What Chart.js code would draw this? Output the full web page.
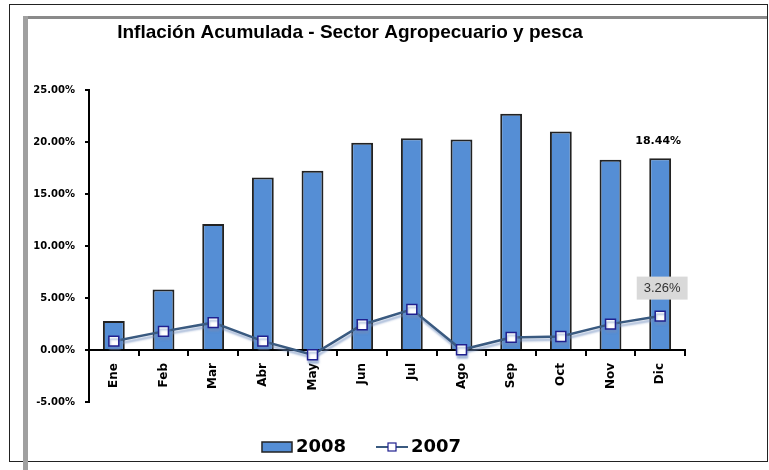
<!DOCTYPE html>
<html>
<head>
<meta charset="utf-8">
<script src="https://cdn.jsdelivr.net/npm/chart.js@4/dist/chart.umd.min.js"></script>
<style>
html, body { margin: 0; padding: 0; background: #fff; }
#wrap { position: relative; width: 769px; height: 470px; overflow: hidden; }
#chart { position: absolute; left: 0; top: 0; }
.outer { position: absolute; left: 9px; top: 4px; width: 757px; height: 456px; border: 1px solid #222; pointer-events: none; }
.innerTop { position: absolute; left: 23px; top: 16px; width: 744px; height: 3px; background: #8a8a8a; pointer-events: none; }
.innerLeft { position: absolute; left: 23px; top: 16px; width: 5px; height: 454px; background: #a0a0a0; pointer-events: none; }
</style>
</head>
<body>
<div id="wrap">
  <canvas id="chart" width="769" height="470"></canvas>
  <div class="outer"></div>
  <div class="innerTop"></div>
  <div class="innerLeft"></div>
</div>
<script>
const chartTitle = 'Inflación Acumulada - Sector Agropecuario y pesca';
const months = ['Ene', 'Feb', 'Mar', 'Abr', 'May', 'Jun', 'Jul', 'Ago', 'Sep', 'Oct', 'Nov', 'Dic'];
const seriesNames = ['2008', '2007'];
const values2008 = [2.78, 5.81, 12.11, 16.58, 17.23, 19.93, 20.35, 20.25, 22.72, 21.00, 18.29, 18.44];
const values2007 = [0.85, 1.79, 2.63, 0.85, -0.46, 2.43, 3.91, 0.02, 1.21, 1.30, 2.49, 3.26];
const yTicks = [-5, 0, 5, 10, 15, 20, 25];

const barColor = '#558ed5';
const lineColor = '#3a5a80';
const markerBorder = '#20208f';

document.addEventListener('DOMContentLoaded', () => {
    Chart.defaults.font.family = '"DejaVu Sans", sans-serif';
    Chart.defaults.color = '#000';

    // legend icons: plain bar swatch and line with square marker
    function legendIcon(draw) {
        const c = document.createElement('canvas');
        c.width = 32;
        c.height = 12;
        draw(c.getContext('2d'));
        return c;
    }
    const barIcon = legendIcon(g => {
        g.fillStyle = barColor;
        g.fillRect(1, 1, 30, 10);
        g.strokeStyle = '#222';
        g.lineWidth = 1.5;
        g.strokeRect(1, 1, 30, 10);
    });
    const lineIcon = legendIcon(g => {
        g.strokeStyle = lineColor;
        g.lineWidth = 2;
        g.beginPath();
        g.moveTo(0, 6);
        g.lineTo(32, 6);
        g.stroke();
        g.fillStyle = '#fff';
        g.fillRect(12, 2, 8, 8);
        g.strokeStyle = markerBorder;
        g.lineWidth = 1.2;
        g.strokeRect(12, 2, 8, 8);
    });

    const titlePlugin = {
        id: 'plainTitle',
        afterDraw(chart) {
            const c = chart.ctx;
            c.save();
            c.font = 'bold 19px "Liberation Sans"';
            c.fillStyle = '#000';
            c.textAlign = 'center';
            c.textBaseline = 'middle';
            c.fillText(chartTitle, 350, 33);
            c.restore();
        }
    };

    // the legend sits a bit right of the plot centre in the original
    const legendShift = {
        id: 'legendShift',
        afterUpdate(chart) {
            chart.legend.left += 14;
            chart.legend.right += 14;
        }
    };

    const lineShadow = {
        id: 'lineShadow',
        beforeDatasetDraw(chart, args) {
            if (args.index !== 1) return;
            const c = chart.ctx;
            c.save();
            c.shadowColor = 'rgba(110,140,190,0.6)';
            c.shadowOffsetX = 1;
            c.shadowOffsetY = 3;
            c.shadowBlur = 2;
        },
        afterDatasetDraw(chart, args) {
            if (args.index === 1) chart.ctx.restore();
        }
    };

    const valueLabels = {
        id: 'valueLabels',
        afterDatasetsDraw(chart) {
            const c = chart.ctx;
            const last = months.length - 1;
            const bar = chart.getDatasetMeta(0).data[last];
            const pt = chart.getDatasetMeta(1).data[last];
            c.save();
            c.textAlign = 'center';
            c.textBaseline = 'middle';
            c.font = 'bold 11px "DejaVu Sans"';
            c.fillStyle = '#000';
            c.fillText(values2008[last].toFixed(2) + '%', bar.x - 2, bar.y - 17);
            const txt = values2007[last].toFixed(2) + '%';
            c.font = '13px "Liberation Sans"';
            const w = c.measureText(txt).width + 14;
            c.fillStyle = '#d9d9d9';
            c.fillRect(pt.x + 2 - w / 2, pt.y - 28 - 11.5, w, 23);
            c.fillStyle = '#333';
            c.fillText(txt, pt.x + 2, pt.y - 28);
            c.restore();
        }
    };

    const ctx = document.getElementById('chart').getContext('2d');
    new Chart(ctx, {
        type: 'bar',
        data: {
            labels: months,
            datasets: [{
                label: seriesNames[0],
                data: values2008,
                backgroundColor: barColor,
                borderColor: '#222',
                borderWidth: 2,
                borderSkipped: 'bottom',
                barPercentage: 0.44,
                categoryPercentage: 1,
                order: 1
            }, {
                type: 'line',
                label: seriesNames[1],
                data: values2007,
                borderColor: lineColor,
                borderWidth: 2.5,
                tension: 0,
                pointStyle: 'rect',
                pointRadius: 7,
                pointBackgroundColor: '#fff',
                pointBorderColor: markerBorder,
                pointBorderWidth: 1.5,
                order: 0
            }]
        },
        options: {
            responsive: false,
            animation: false,
            layout: { padding: { left: 15, right: 84, top: 90, bottom: 4 } },
            scales: {
                x: {
                    position: { y: 0 },
                    afterFit: s => { s.height = 0; },
                    grid: { drawOnChartArea: false, drawTicks: true, tickLength: 5, color: '#000', lineWidth: 2 },
                    border: { display: true, color: '#000', width: 2 },
                    ticks: { minRotation: 90, maxRotation: 90, padding: 8, font: { size: 12, weight: 'bold' } }
                },
                y: {
                    min: -5,
                    max: 25,
                    afterFit: s => { s.width = 74; },
                    afterBuildTicks: s => { s.ticks = yTicks.map(v => ({ value: v })); },
                    grid: { drawOnChartArea: false, drawTicks: true, tickLength: 4, color: '#000', lineWidth: 2 },
                    border: { display: true, color: '#000', width: 2 },
                    ticks: {
                        padding: 10,
                        font: { size: 10, weight: 'bold' },
                        callback: v => v.toFixed(2) + '%'
                    }
                }
            },
            plugins: {
                title: { display: false },
                tooltip: { enabled: false },
                legend: {
                    position: 'bottom',
                    reverse: true,
                    labels: {
                        usePointStyle: true,
                        pointStyleWidth: 20,
                        padding: 36,
                        color: '#000',
                        font: { size: 18, weight: 'bold' },
                        generateLabels: chart => {
                            const items = Chart.defaults.plugins.legend.labels.generateLabels(chart);
                            items.forEach(it => { it.pointStyle = it.datasetIndex === 0 ? barIcon : lineIcon; });
                            return items;
                        }
                    }
                }
            }
        },
        plugins: [titlePlugin, legendShift, lineShadow, valueLabels]
    });
});
</script>
</body>
</html>
